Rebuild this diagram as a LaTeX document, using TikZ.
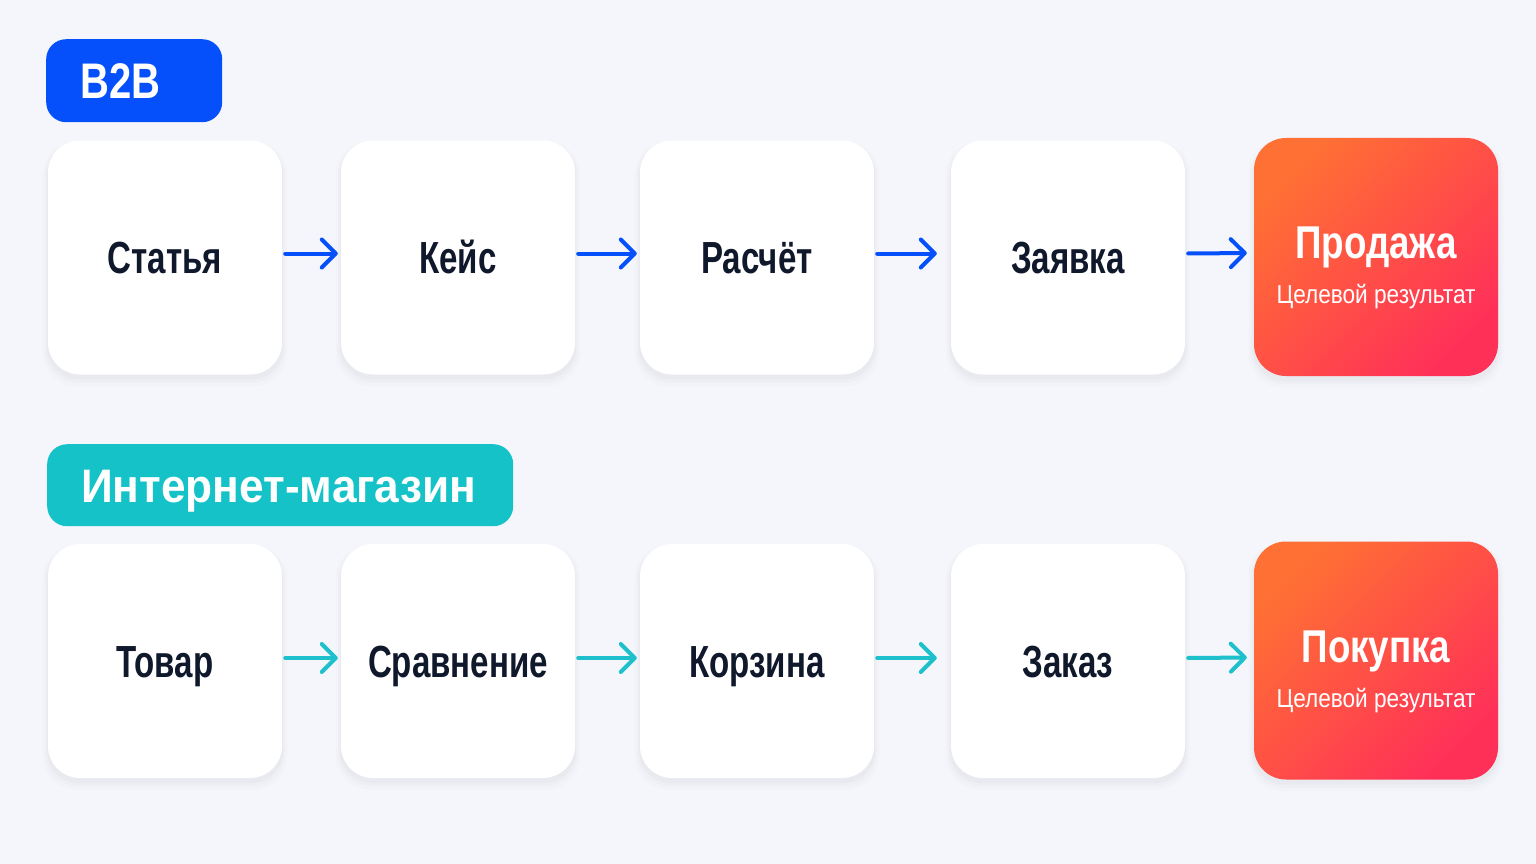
\documentclass[tikz,border=0pt]{standalone}
\usepackage{fontspec}
\setmainfont{Liberation Sans}
\newfontfamily\narrowfont[FakeStretch=0.8]{Liberation Sans}
\newfontfamily\cardfont[FakeStretch=0.735]{Liberation Sans}
\newfontfamily\notefont[FakeStretch=0.87]{Liberation Sans}
\newfontfamily\tagfont[FakeStretch=0.94]{Liberation Sans}
\usepackage{tikz}
\usetikzlibrary{arrows.meta,positioning,shadows}

\definecolor{bgcol}{RGB}{244,246,251}
\definecolor{inkcol}{RGB}{16,24,44}
\definecolor{bluecol}{RGB}{5,80,250}
\definecolor{tealcol}{RGB}{20,194,200}
\definecolor{arrowteal}{RGB}{30,192,204}
\definecolor{hotorange}{RGB}{255,112,52}
\definecolor{hotred}{RGB}{255,48,88}

\begin{document}
\begin{tikzpicture}[x=1pt, y=-1pt,
  soft/.style={
    general shadow={shadow scale=1.01, shadow yshift=-4pt, fill=black, opacity=0.02},
    general shadow={shadow scale=1.025, shadow yshift=-5pt, fill=black, opacity=0.015},
    general shadow={shadow scale=1.045, shadow yshift=-6pt, fill=black, opacity=0.012}},
  card/.style={soft, rounded corners=32pt, fill=white, minimum width=234pt, minimum height=234pt,
    text=inkcol, font=\cardfont\bfseries\fontsize{45}{50}\selectfont,
    text height=32pt, text depth=0pt},
  goal/.style={soft, rounded corners=32pt, minimum width=244pt, minimum height=238pt,
    top color=hotorange, bottom color=hotred, shading angle=45},
  goaltitle/.style={text=white, font=\narrowfont\bfseries\fontsize{46}{50}\selectfont,
    text height=33pt, text depth=0pt, inner sep=0pt},
  goalnote/.style={text=white, font=\notefont\fontsize{26}{30}\selectfont,
    text height=19pt, text depth=0pt, inner sep=0pt},
  tag/.style={rounded corners=20pt, text=white, anchor=north west, align=left,
    inner xsep=34pt, text depth=0pt},
  flow/.style={line width=4pt, line cap=round,
    -{Straight Barb[length=14pt,width=28pt,round]}, shorten <=3pt, shorten >=3pt}
]
\fill[bgcol] (0,0) rectangle (1536,864);

% B2B row
\node[tag, fill=bluecol, minimum height=83pt, text width=108pt, text height=36pt,
  font=\narrowfont\bfseries\fontsize{50}{54}\selectfont] (b2b) at (46,39) {B2B};

\node[card] (statya) at (165,257.5) {Статья};
\node[card] (keis) at (458,257.5) {Кейс};
\node[card] (raschet) at (757,257.5) {Расчёт};
\node[card] (zayavka) at (1068,257.5) {Заявка};
\node[goal] (prodazha) at (1376,257) {};
\node[goaltitle] (prodazhaT) at ([yshift=15pt]prodazha.center) {Продажа};
\node[goalnote] (prodazhaN) at ([yshift=-37pt]prodazha.center) {Целевой результат};

\draw[flow, bluecol] ([yshift=4pt]statya.east) -- ([yshift=4pt]keis.west);
\draw[flow, bluecol] ([yshift=4pt]keis.east) -- ([yshift=4pt]raschet.west);
\draw[flow, bluecol, shorten >=14pt] ([yshift=4pt]raschet.east) -- ([yshift=4pt]zayavka.west);
\draw[flow, bluecol, shorten >=7pt] ([yshift=4pt]zayavka.east) -- ([yshift=4pt]prodazha.west);

% shop row
\node[tag, fill=tealcol, minimum height=82pt, text width=398pt, text height=34pt,
  font=\tagfont\bfseries\fontsize{47}{52}\selectfont] (shop) at (47,444) {\mbox{Интернет-магазин}};

\node[card] (tovar) at (165,661) {Товар};
\node[card] (sravnenie) at (458,661) {Сравнение};
\node[card] (korzina) at (757,661) {Корзина};
\node[card] (zakaz) at (1068,661) {Заказ};
\node[goal] (pokupka) at (1376,660.5) {};
\node[goaltitle] (pokupkaT) at ([yshift=15pt]pokupka.center) {Покупка};
\node[goalnote] (pokupkaN) at ([yshift=-37pt]pokupka.center) {Целевой результат};

\draw[flow, arrowteal] ([yshift=3pt]tovar.east) -- ([yshift=3pt]sravnenie.west);
\draw[flow, arrowteal] ([yshift=3pt]sravnenie.east) -- ([yshift=3pt]korzina.west);
\draw[flow, arrowteal, shorten >=14pt] ([yshift=3pt]korzina.east) -- ([yshift=3pt]zakaz.west);
\draw[flow, arrowteal, shorten >=7pt] ([yshift=3pt]zakaz.east) -- ([yshift=3pt]pokupka.west);
\end{tikzpicture}
\end{document}
